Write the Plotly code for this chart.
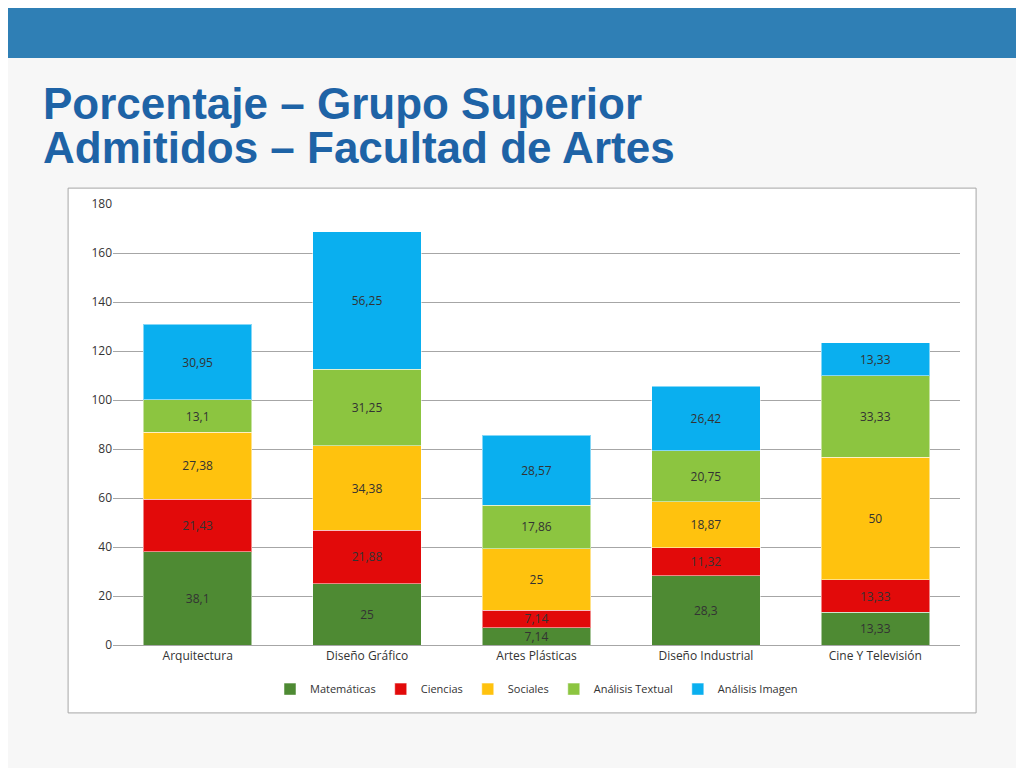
import plotly.graph_objects as go

carreras = ["Arquitectura", "Diseño Gráfico", "Artes Plásticas", "Diseño Industrial", "Cine Y Televisión"]
matematicas = [38.1, 25, 7.14, 28.3, 13.33]
ciencias = [21.43, 21.88, 7.14, 11.32, 13.33]
sociales = [27.38, 34.38, 25, 18.87, 50]
textual = [13.1, 31.25, 17.86, 20.75, 33.33]
imagen = [30.95, 56.25, 28.57, 26.42, 13.33]

series = [
    ("Matemáticas", matematicas, "#4E8A33"),
    ("Ciencias", ciencias, "#E20A0A"),
    ("Sociales", sociales, "#FFC20E"),
    ("Análisis Textual", textual, "#8CC540"),
    ("Análisis Imagen", imagen, "#0AAFEF"),
]

def fmt(v):
    return ("%g" % v).replace(".", ",")

fig = go.Figure()
for name, vals, col in series:
    fig.add_trace(go.Bar(
        x=carreras, y=vals, name=name, marker_color=col,
        marker_line=dict(color="rgba(255,255,255,0.5)", width=1),
        text=[fmt(v) for v in vals], textposition="inside", insidetextanchor="middle",
        textangle=0, constraintext="none",
        textfont=dict(size=12, color="#333333", family="Open Sans"),
    ))

shapes = [
    dict(type="rect", xref="paper", yref="paper", x0=-0.2, x1=1.1, y0=1.331, y1=1.5,
         fillcolor="#2F7FB5", line_width=0, layer="below"),
    dict(type="rect", xref="paper", yref="paper", x0=-0.053, x1=1.019, y0=-0.154, y1=1.036,
         fillcolor="white", line=dict(color="#A6A6A6", width=1), layer="below"),
]
titles = [("Porcentaje – Grupo Superior", 1.229), ("Admitidos – Facultad de Artes", 1.127)]
annotations = [dict(text="<b>%s</b>" % t, xref="paper", yref="paper", x=-0.085, y=y, xanchor="left",
                    yanchor="middle", showarrow=False,
                    font=dict(size=44, color="#1E63A6", family="Liberation Sans"))
               for t, y in titles]

fig.update_layout(
    width=1024, height=768, barmode="stack", bargap=0.36,
    margin=dict(l=105, r=72, t=196, b=131),
    paper_bgcolor="#F7F7F7", plot_bgcolor="white",
    shapes=shapes, annotations=annotations,
    uniformtext=dict(minsize=12, mode="show"),
    font=dict(family="Open Sans", size=12, color="#333333"),
    legend=dict(orientation="h", x=0.5, xanchor="center", y=-0.1, yanchor="middle",
                font=dict(size=11), traceorder="normal", bgcolor="rgba(0,0,0,0)"),
)
fig.update_yaxes(range=[0, 180], dtick=20, gridcolor="#A6A6A6", zeroline=False,
                 showline=False, ticks="", tickfont=dict(size=12))
fig.update_xaxes(showline=True, linecolor="#A6A6A6", tickfont=dict(size=12))
fig.write_html("out.html")
